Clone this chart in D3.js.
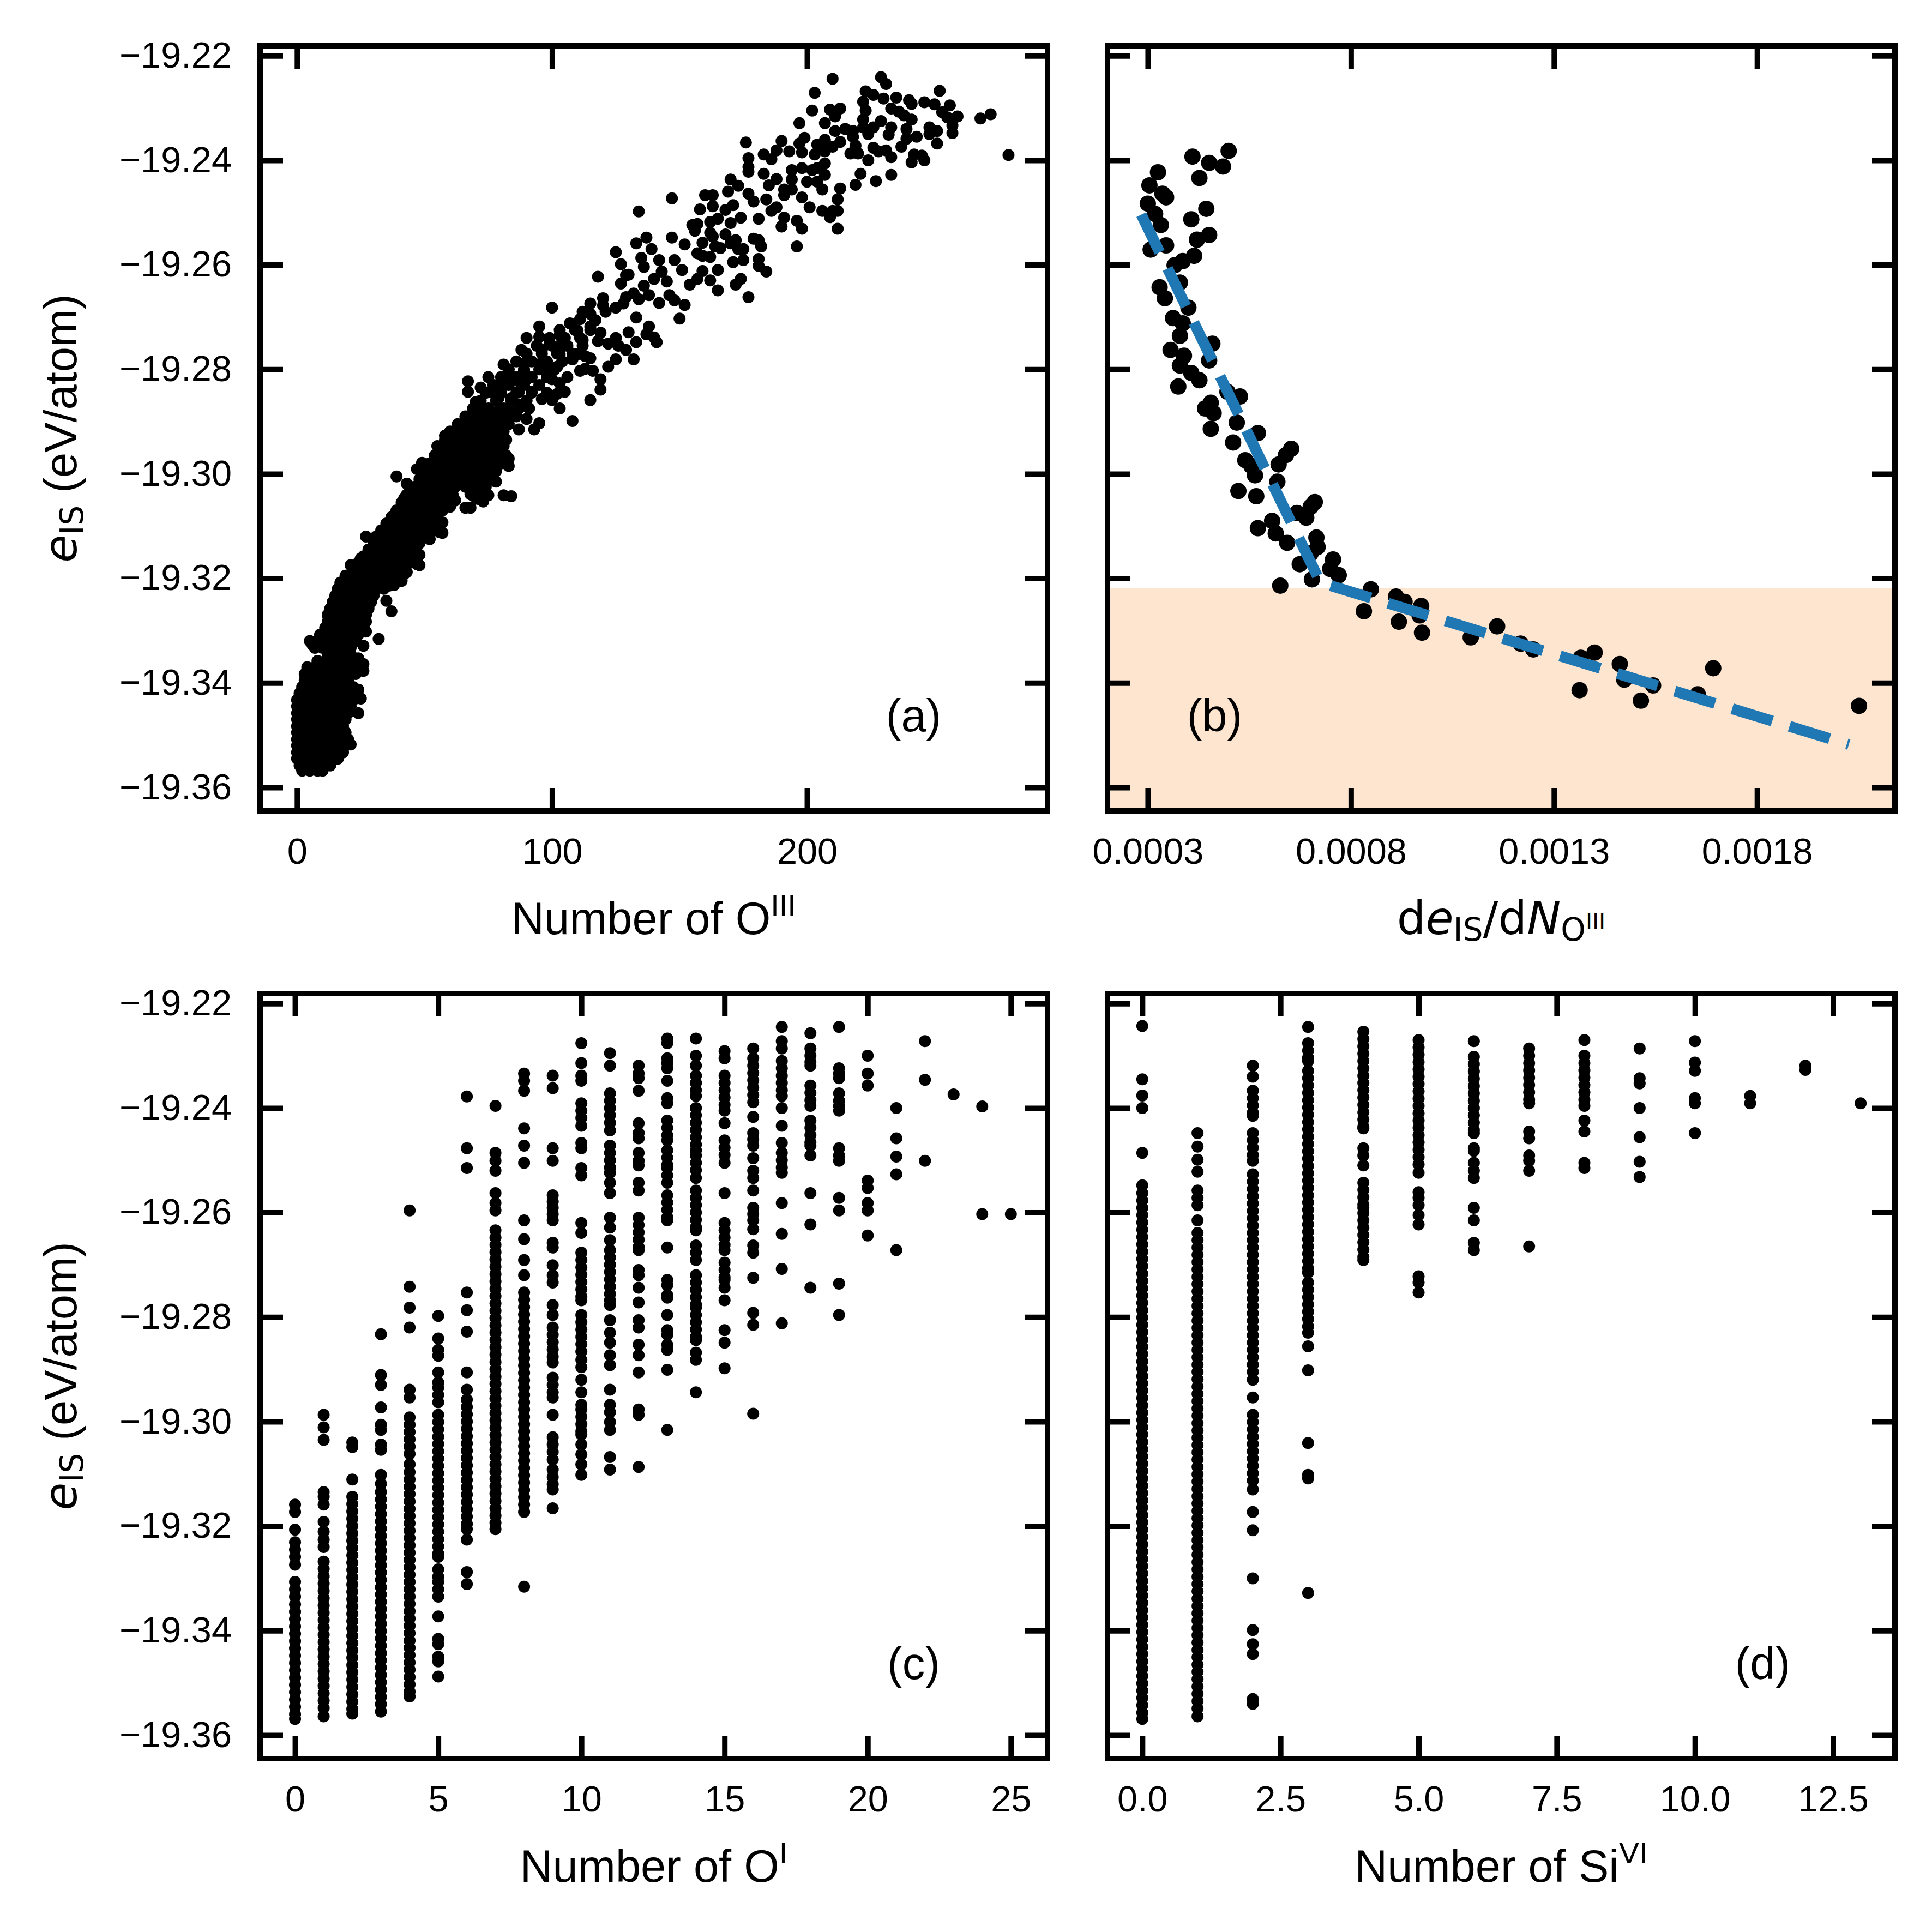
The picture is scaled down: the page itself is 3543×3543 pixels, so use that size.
<!DOCTYPE html>
<html>
<head>
<meta charset="utf-8">
<script src="https://cdn.jsdelivr.net/npm/d3@7"></script>
<style>
    body { margin: 0; background: #fff; }
    svg { display: block; }
</style>
</head>
<body>
<svg id="chart" width="3543" height="3543"></svg>
<script>
(function() {

    ///////////////////////// DATA //////////////////////////

    // shared y axis: e_IS (eV/atom)
    var energyTicks = [-19.36, -19.34, -19.32, -19.30, -19.28, -19.26, -19.24, -19.22];

    // (a) number of O^III vs e_IS, scattered points
    var oiiiScatter = [
        [210,-19.2244],[229,-19.2241],[231,-19.2254],[203,-19.2271],[223,-19.2268],[226,-19.2275],[222,-19.2288],[230,-19.2282],
        [235,-19.2280],[240,-19.2285],[241,-19.2292],[246,-19.2289],[250,-19.2293],[252,-19.2267],[256,-19.2295],[253,-19.2308],
        [259,-19.2316],[255,-19.2318],[268,-19.2320],[272,-19.2312],[279,-19.2390],[257,-19.2333],[257,-19.2348],[251,-19.2344],
        [248,-19.2337],[248,-19.2350],[251,-19.2368],[243,-19.2355],[242,-19.2389],[241,-19.2404],[245,-19.2391],[246,-19.2400],
        [237,-19.2374],[239,-19.2359],[233,-19.2394],[232,-19.2351],[231,-19.2381],[228,-19.2383],[226,-19.2376],[224,-19.2400],
        [233,-19.2428],[221,-19.2426],[219,-19.2447],[227,-19.2440],[233,-19.2301],[236,-19.2307],[238,-19.2314],[241,-19.2322],
        [239,-19.2340],[233,-19.2337],[229,-19.2325],[226,-19.2337],[224,-19.2350],[222,-19.2322],[223,-19.2305],[222,-19.2337],
        [218,-19.2355],[215,-19.2340],[218,-19.2344],[219,-19.2372],[217,-19.2387],[220,-19.2387],[213,-19.2365],[210,-19.2374],
        [207,-19.2361],[211,-19.2344],[207,-19.2329],[209,-19.2303],[213,-19.2301],[211,-19.2316],[202,-19.2305],[197,-19.2329],
        [199,-19.2357],[204,-19.2370],[207,-19.2383],[203,-19.2389],[207,-19.2406],[204,-19.2415],[202,-19.2419],[207,-19.2428],
        [213,-19.2454],[212,-19.2475],[206,-19.2456],[204,-19.2441],[200,-19.2441],[198,-19.2415],[194,-19.2419],[194,-19.2437],
        [194,-19.2456],[191,-19.2467],[198,-19.2471],[201,-19.2490],[206,-19.2497],[210,-19.2497],[209,-19.2509],[212,-19.2497],
        [212,-19.2531],[196,-19.2516],[198,-19.2531],[190,-19.2527],[191,-19.2510],[196,-19.2565],[193,-19.2383],[190,-19.2363],
        [197,-19.2368],[198,-19.2385],[188,-19.2381],[186,-19.2398],[183,-19.2389],[176,-19.2366],[177,-19.2396],[177,-19.2413],
        [177,-19.2422],[183,-19.2426],[188,-19.2436],[185,-19.2448],[191,-19.2456],[170,-19.2437],[173,-19.2449],[177,-19.2464],
        [179,-19.2479],[184,-19.2475],[186,-19.2497],[188,-19.2490],[181,-19.2512],[174,-19.2510],[171,-19.2486],[169,-19.2460],
        [160,-19.2467],[163,-19.2467],[158,-19.2494],[163,-19.2488],[168,-19.2495],[147,-19.2473],[134,-19.2498],[155,-19.2524],
        [157,-19.2522],[162,-19.2518],[165,-19.2512],[170,-19.2520],[168,-19.2542],[172,-19.2553],[162,-19.2539],[156,-19.2535],
        [159,-19.2558],[163,-19.2546],[164,-19.2565],[166,-19.2568],[170,-19.2559],[173,-19.2570],[175,-19.2570],[179,-19.2550],
        [181,-19.2553],[182,-19.2565],[181,-19.2589],[181,-19.2602],[184,-19.2613],[175,-19.2591],[171,-19.2595],[174,-19.2627],
        [172,-19.2638],[177,-19.2662],[165,-19.2610],[162,-19.2630],[165,-19.2649],[159,-19.2612],[157,-19.2627],[154,-19.2638],
        [159,-19.2583],[157,-19.2578],[162,-19.2585],[152,-19.2561],[147,-19.2548],[151,-19.2610],[148,-19.2591],[143,-19.2613],
        [142,-19.2591],[139,-19.2570],[137,-19.2548],[133,-19.2559],[135,-19.2587],[136,-19.2604],[140,-19.2627],[145,-19.2632],
        [146,-19.2658],[148,-19.2668],[152,-19.2677],[150,-19.2703],[142,-19.2673],[138,-19.2658],[134,-19.2666],[136,-19.2640],
        [132,-19.2655],[133,-19.2701],[130,-19.2619],[138,-19.2718],[137,-19.2733],[140,-19.2739],[141,-19.2748],[133,-19.2748],
        [130,-19.2729],
        [125,-19.2576],[127,-19.2599],[118,-19.2623],[129,-19.2620],[127,-19.2636],[100,-19.2682],[115,-19.2674],[120,-19.2664],
        [120,-19.2678],[112,-19.2690],[115,-19.2694],[107,-19.2712],[111,-19.2704],[117,-19.2706],[121,-19.2690],[125,-19.2682],
        [128,-19.2674],[129,-19.2662],[95,-19.2718],[95,-19.2738],[90,-19.2740],[103,-19.2734],[104,-19.2746],[110,-19.2726],
        [112,-19.2744],[115,-19.2718],[119,-19.2730],[118,-19.2746],[122,-19.2751],[125,-19.2740],[126,-19.2755],[129,-19.2763],
        [125,-19.2781],[122,-19.2795],[119,-19.2819],[119,-19.2839],[115,-19.2859],[116,-19.2803],[113,-19.2799],[111,-19.2803],
        [115,-19.2779],[113,-19.2775],[110,-19.2771],[108,-19.2781],[103,-19.2771],[103,-19.2759],[99,-19.2752],[96,-19.2763],
        [88,-19.2763],[90,-19.2785],[89,-19.2803],[96,-19.2787],[99,-19.2801],[102,-19.2795],[100,-19.2819],[106,-19.2815],
        [103,-19.2827],[105,-19.2843],[102,-19.2847],[103,-19.2875],[100,-19.2859],[96,-19.2857],[92,-19.2843],[90,-19.2819],
        [87,-19.2823],[87,-19.2843],[81,-19.2791],[84,-19.2817],[81,-19.2827],[75,-19.2815],[72,-19.2835],[67,-19.2823],
        [67,-19.2843],[76,-19.2843],[79,-19.2855],[84,-19.2855],[87,-19.2867],[91,-19.2875],[83,-19.2879],[79,-19.2879],
        [70,-19.2863],[73,-19.2875],[70,-19.2887],[73,-19.2899],[78,-19.2895],[81,-19.2903],[87,-19.2915],[90,-19.2895],
        [95,-19.2903],[93,-19.2915],[108,-19.2899],[81,-19.2919],[78,-19.2923],[74,-19.2927],[70,-19.2911],[63,-19.2911],
        [60,-19.2919],[58,-19.2927],[55,-19.2947],[64,-19.2927],[67,-19.2923],[71,-19.2935],[76,-19.2943],[78,-19.2939],
        [81,-19.2947],[75,-19.2959],[73,-19.2979],[77,-19.2975],[83,-19.2971],[83,-19.2985],[74,-19.2997],[72,-19.3011],
        [78,-19.3015],[75,-19.3041],[73,-19.3053],[68,-19.3039],[68,-19.3065],[84,-19.3043],[62,-19.3051],[66,-19.3011],
        [63,-19.2987],[58,-19.2971],[55,-19.2969],[53,-19.2983],[49,-19.2979],[47,-19.2991],[51,-19.3003],[56,-19.2995],
        [60,-19.3011],[58,-19.3027],[54,-19.3023],[43,-19.3019],[39,-19.3005],[42,-19.3047],[48,-19.3043],[53,-19.3051],
        [57,-19.3063],[60,-19.3063],[39,-19.3071],[44,-19.3071],[50,-19.3079],[54,-19.3085],[57,-19.3093],[57,-19.3113],
        [51,-19.3107],[46,-19.3099],[40,-19.3095],[35,-19.3103],[33,-19.3119],[30,-19.3131],[37,-19.3123],[41,-19.3127],
        [46,-19.3131],[48,-19.3155],[48,-19.3175],[43,-19.3151],[39,-19.3143],[35,-19.3151],[31,-19.3155],[40,-19.3163],
        [43,-19.3188],[132,-19.2781],
        [81,-19.3041],[66,-19.3065],[73,-19.3040],[71,-19.3048],[69,-19.3042],[56,-19.3112],[27,-19.3120],[30,-19.3130],
        [52,-19.3125],[25,-19.3162],[21,-19.3175],[47,-19.3173],[47,-19.3153],[42,-19.3192],[41,-19.3205],[38,-19.3213],
        [36,-19.3214],[35,-19.3243],[37,-19.3263],[27,-19.3302],[32,-19.3316],[6,-19.3327],[26,-19.3329],[24,-19.3353],
        [26,-19.3364],[26,-19.3377],[24,-19.3413],[25,-19.3430],[24,-19.3458],[21,-19.3518]
    ];

    // (a) dense middle band: [e_IS, O^III counts at that energy]
    var oiiiBandRows = [
        [-19.2725, [103,109,115]],
        [-19.2740, [99,105,111]],
        [-19.2755, [94,100,106,112]],
        [-19.2770, [90,96,102,108]],
        [-19.2785, [86,92,98,104]],
        [-19.2800, [83,89,95,101]],
        [-19.2815, [80,86,92,98]],
        [-19.2830, [77,83,89,95]],
        [-19.2845, [74,80,86,92,98]],
        [-19.2860, [72,78,84,90]],
        [-19.2875, [69,75,81,87]],
        [-19.2890, [66,70,74,78,82,86]],
        [-19.2905, [63,67,71,75,79,83]],
        [-19.2920, [60,64,68,72,76,80]],
        [-19.2935, [58,62,66,70,74,78,82]],
        [-19.2950, [56,60,64,68,72,76,80]],
        [-19.2965, [54,58,62,66,70,74,78,82]],
        [-19.2980, [52,56,60,64,68,72,76,80]],
        [-19.2995, [50,54,58,62,66,70,74,78]],
        [-19.3010, [48,52,56,60,64,68,72,76]],
        [-19.3025, [46,50,54,58,62,66,70,74]]
    ];

    // (a) dense core near low O^III counts: [e_IS, counts at that energy]
    var oiiiCoreRows = [
        [-19.3040, [43,46,49,52,55,58,61]],
        [-19.3055, [41,44,47,50,53,56,59]],
        [-19.3070, [39,42,45,48,51,54,57]],
        [-19.3083, [37,40,43,46,49,52,55]],
        [-19.3095, [35,38,41,44,47,50,53,55]],
        [-19.3108, [33,36,39,42,45,48,51,53]],
        [-19.3120, [31,34,37,40,43,46,49]],
        [-19.3133, [30,33,36,39,42,45,48]],
        [-19.3145, [28,31,34,37,40,43,46]],
        [-19.3158, [26,29,32,35,38,41,44,46]],
        [-19.3170, [24,27,30,33,36,39,42,44]],
        [-19.3183, [22,25,28,31,34,37,40,42]],
        [-19.3195, [19,22,25,28,31,34,37,40]],
        [-19.3208, [17,20,23,26,29,32,35,38]],
        [-19.3220, [16,19,22,25,28,31,34]],
        [-19.3233, [15,18,21,24,27,30]],
        [-19.3245, [14,17,20,23,26,29]],
        [-19.3258, [13,16,19,22,25,28]],
        [-19.3270, [12,15,18,21,24,27]],
        [-19.3283, [12,15,18,21,24,27]],
        [-19.3295, [11,14,17,20,23,26]],
        [-19.3308, [9,12,15,18,21,24]],
        [-19.3320, [5,8,11,14,17,20,23]],
        [-19.3333, [7,10,13,16,19,21]],
        [-19.3345, [12,15,18,21]],
        [-19.3358, [8,11,14,17,20,22]],
        [-19.3370, [4,7,10,13,16,19,22]],
        [-19.3383, [3,6,9,12,15,18,21,23]],
        [-19.3395, [3,6,9,12,15,18,20]],
        [-19.3408, [2,5,8,11,14,17,20,22]],
        [-19.3420, [1,4,7,10,13,16,19,22,23]],
        [-19.3433, [0,3,6,9,12,15,18,21,22]],
        [-19.3445, [0,3,6,9,12,15,18,21]],
        [-19.3458, [0,3,6,9,12,15,18,20]],
        [-19.3470, [0,3,6,9,12,15,18,19]],
        [-19.3483, [0,3,6,9,12,15,18]],
        [-19.3495, [0,3,6,9,12,15,18,19]],
        [-19.3508, [0,3,6,9,12,15,18,20]],
        [-19.3520, [0,3,6,9,12,15,18,19]],
        [-19.3533, [0,3,6,9,12,15,18]],
        [-19.3545, [0,3,6,9,12,15,16]],
        [-19.3558, [1,4,7,10,13]],
        [-19.3568, [2,5,8,10]]
    ];

    // (b) de_IS/dN_OIII vs e_IS
    var slopeValues = [
        0.000499,0.000410,0.000451,0.000485,0.000427,0.000325,0.000304,0.000336,0.000345,0.000300,
        0.000444,0.000407,0.000318,0.000332,0.000451,0.000421,0.000307,0.000345,0.000414,0.000386,
        0.000366,0.000379,0.000329,0.000342,0.000400,0.000362,0.000386,0.000379,0.000459,0.000451,
        0.000356,0.000389,0.000379,0.000407,0.000427,0.000375,0.000496,0.000527,0.000455,0.000441,
        0.000462,0.000519,0.000455,0.000571,0.000510,0.000540,0.000555,0.000564,0.000622,0.000653,
        0.000640,0.000619,0.000523,0.000567,0.000606,0.000571,0.000615,0.000643,0.000667,0.000690,
        0.000711,0.000701,0.000715,0.000718,0.000701,0.000674,0.000756,0.000749,0.000770,0.000704,
        0.000626,0.000849,0.000832,0.000911,0.000932,0.000973,0.000969,0.000918,0.000975,0.001095,
        0.001160,0.001218,0.001249,0.001366,0.001400,0.001462,0.001473,0.001363,0.001544,0.001514,
        0.001654,0.001692,0.002051
    ];
    var slopeEnergies = [
        -19.2382,-19.2393,-19.2405,-19.2412,-19.2434,-19.2423,-19.2448,-19.2464,-19.2471,-19.2483,
        -19.2493,-19.2513,-19.2503,-19.2524,-19.2543,-19.2552,-19.2571,-19.2563,-19.2583,-19.2593,
        -19.2601,-19.2634,-19.2643,-19.2664,-19.2682,-19.2702,-19.2712,-19.2736,-19.2751,-19.2783,
        -19.2763,-19.2774,-19.2793,-19.2807,-19.2821,-19.2833,-19.2843,-19.2852,-19.2864,-19.2875,
        -19.2884,-19.2902,-19.2914,-19.2922,-19.2940,-19.2974,-19.2985,-19.3003,-19.2982,-19.2952,
        -19.2964,-19.3015,-19.3033,-19.3043,-19.3090,-19.3104,-19.3114,-19.3132,-19.3075,-19.3084,
        -19.3054,-19.3063,-19.3122,-19.3140,-19.3152,-19.3173,-19.3164,-19.3182,-19.3194,-19.3202,
        -19.3214,-19.3221,-19.3263,-19.3235,-19.3245,-19.3253,-19.3271,-19.3283,-19.3304,-19.3313,
        -19.3292,-19.3325,-19.3336,-19.3352,-19.3342,-19.3364,-19.3394,-19.3414,-19.3405,-19.3434,
        -19.3422,-19.3372,-19.3444
    ];
    // (b) dashed piecewise fit and shaded band top
    var fitSlope = [0.000284, 0.000725, 0.002026];
    var fitEnergy = [-19.2504, -19.3208, -19.3518];
    var bandTop = -19.3219;

    // (c) number of O^I: [count, e_IS values]
    var oiColumns = [
        [0, [-19.3159,-19.3173,-19.3207,-19.3231,-19.3245,-19.3259,-19.3274,-19.3307,-19.3321,-19.3335,-19.3350,-19.3364,-19.3378,-19.3392,-19.3406,-19.3420,-19.3434,-19.3448,-19.3462,-19.3476,-19.3490,-19.3504,-19.3518,-19.3532,-19.3546,-19.3560,-19.3569]],
        [1, [-19.2987,-19.3011,-19.3035,-19.3135,-19.3144,-19.3159,-19.3192,-19.3211,-19.3226,-19.3240,-19.3268,-19.3282,-19.3296,-19.3310,-19.3324,-19.3338,-19.3352,-19.3366,-19.3380,-19.3394,-19.3408,-19.3422,-19.3436,-19.3450,-19.3464,-19.3478,-19.3492,-19.3506,-19.3520,-19.3534,-19.3548,-19.3564]],
        [2, [-19.3040,-19.3049,-19.3111,-19.3144,-19.3158,-19.3172,-19.3186,-19.3200,-19.3214,-19.3228,-19.3242,-19.3256,-19.3270,-19.3284,-19.3298,-19.3312,-19.3326,-19.3340,-19.3354,-19.3368,-19.3382,-19.3396,-19.3410,-19.3424,-19.3438,-19.3452,-19.3466,-19.3480,-19.3494,-19.3508,-19.3522,-19.3536,-19.3550,-19.3559]],
        [3, [-19.2833,-19.2911,-19.2930,-19.2973,-19.3006,-19.3016,-19.3044,-19.3054,-19.3102,-19.3119,-19.3135,-19.3149,-19.3163,-19.3177,-19.3191,-19.3205,-19.3219,-19.3233,-19.3247,-19.3261,-19.3275,-19.3289,-19.3303,-19.3317,-19.3331,-19.3345,-19.3359,-19.3373,-19.3387,-19.3401,-19.3415,-19.3429,-19.3443,-19.3457,-19.3471,-19.3485,-19.3499,-19.3513,-19.3527,-19.3541,-19.3555]],
        [4, [-19.2596,-19.2742,-19.2782,-19.2820,-19.2939,-19.2954,-19.2992,-19.3006,-19.3020,-19.3034,-19.3048,-19.3062,-19.3082,-19.3097,-19.3111,-19.3125,-19.3139,-19.3153,-19.3167,-19.3181,-19.3195,-19.3209,-19.3223,-19.3237,-19.3251,-19.3265,-19.3279,-19.3293,-19.3307,-19.3321,-19.3335,-19.3349,-19.3363,-19.3377,-19.3391,-19.3405,-19.3419,-19.3433,-19.3447,-19.3461,-19.3475,-19.3489,-19.3503,-19.3517,-19.3526]],
        [5, [-19.2798,-19.2841,-19.2863,-19.2874,-19.2906,-19.2925,-19.2935,-19.2949,-19.2963,-19.2987,-19.3001,-19.3015,-19.3029,-19.3043,-19.3057,-19.3071,-19.3085,-19.3099,-19.3113,-19.3127,-19.3141,-19.3155,-19.3169,-19.3183,-19.3197,-19.3211,-19.3225,-19.3239,-19.3253,-19.3259,-19.3283,-19.3297,-19.3307,-19.3321,-19.3335,-19.3373,-19.3416,-19.3426,-19.3450,-19.3459,-19.3488]],
        [6, [-19.2378,-19.2477,-19.2515,-19.2753,-19.2787,-19.2828,-19.2906,-19.2939,-19.2958,-19.2972,-19.2986,-19.3000,-19.3014,-19.3028,-19.3042,-19.3056,-19.3070,-19.3084,-19.3098,-19.3112,-19.3126,-19.3140,-19.3154,-19.3168,-19.3182,-19.3196,-19.3206,-19.3226,-19.3288,-19.3311]],
        [7, [-19.2396,-19.2486,-19.2501,-19.2520,-19.2563,-19.2582,-19.2596,-19.2634,-19.2648,-19.2662,-19.2676,-19.2690,-19.2704,-19.2718,-19.2732,-19.2746,-19.2760,-19.2774,-19.2788,-19.2802,-19.2816,-19.2830,-19.2844,-19.2858,-19.2872,-19.2886,-19.2900,-19.2914,-19.2928,-19.2942,-19.2956,-19.2970,-19.2984,-19.2998,-19.3012,-19.3026,-19.3040,-19.3054,-19.3068,-19.3082,-19.3096,-19.3110,-19.3124,-19.3138,-19.3152,-19.3166,-19.3180,-19.3194,-19.3206]],
        [8, [-19.2334,-19.2348,-19.2367,-19.2439,-19.2472,-19.2505,-19.2615,-19.2651,-19.2691,-19.2720,-19.2753,-19.2767,-19.2781,-19.2795,-19.2809,-19.2823,-19.2837,-19.2851,-19.2865,-19.2879,-19.2893,-19.2907,-19.2921,-19.2935,-19.2949,-19.2963,-19.2977,-19.2991,-19.3005,-19.3019,-19.3033,-19.3047,-19.3061,-19.3075,-19.3089,-19.3103,-19.3117,-19.3131,-19.3145,-19.3159,-19.3173,-19.3316]],
        [9, [-19.2338,-19.2362,-19.2477,-19.2501,-19.2567,-19.2579,-19.2591,-19.2603,-19.2615,-19.2658,-19.2667,-19.2701,-19.2720,-19.2734,-19.2777,-19.2796,-19.2820,-19.2834,-19.2848,-19.2862,-19.2876,-19.2887,-19.2916,-19.2930,-19.2944,-19.2954,-19.2987,-19.3030,-19.3044,-19.3058,-19.3073,-19.3092,-19.3106,-19.3120,-19.3130,-19.3166]],
        [10, [-19.2276,-19.2314,-19.2338,-19.2348,-19.2391,-19.2405,-19.2419,-19.2434,-19.2467,-19.2477,-19.2515,-19.2529,-19.2620,-19.2639,-19.2677,-19.2691,-19.2705,-19.2719,-19.2733,-19.2747,-19.2761,-19.2768,-19.2796,-19.2810,-19.2824,-19.2838,-19.2852,-19.2866,-19.2882,-19.2896,-19.2920,-19.2944,-19.2968,-19.2977,-19.2991,-19.3005,-19.3019,-19.3025,-19.3044,-19.3063,-19.3082,-19.3102]],
        [11, [-19.2295,-19.2319,-19.2372,-19.2386,-19.2400,-19.2414,-19.2428,-19.2443,-19.2472,-19.2486,-19.2500,-19.2514,-19.2524,-19.2543,-19.2563,-19.2610,-19.2629,-19.2653,-19.2672,-19.2686,-19.2700,-19.2714,-19.2728,-19.2742,-19.2756,-19.2768,-19.2777,-19.2806,-19.2830,-19.2849,-19.2873,-19.2892,-19.2939,-19.2968,-19.2982,-19.3001,-19.3016,-19.3068,-19.3092]],
        [12, [-19.2319,-19.2334,-19.2343,-19.2367,-19.2429,-19.2448,-19.2458,-19.2486,-19.2501,-19.2510,-19.2543,-19.2558,-19.2610,-19.2624,-19.2638,-19.2652,-19.2666,-19.2672,-19.2710,-19.2720,-19.2744,-19.2772,-19.2806,-19.2820,-19.2853,-19.2873,-19.2906,-19.2977,-19.2987,-19.3087]],
        [13, [-19.2267,-19.2276,-19.2305,-19.2314,-19.2324,-19.2348,-19.2381,-19.2391,-19.2424,-19.2438,-19.2452,-19.2462,-19.2481,-19.2495,-19.2509,-19.2515,-19.2529,-19.2543,-19.2567,-19.2581,-19.2595,-19.2609,-19.2615,-19.2667,-19.2729,-19.2739,-19.2758,-19.2763,-19.2796,-19.2825,-19.2834,-19.2853,-19.2863,-19.2901,-19.3016]],
        [14, [-19.2267,-19.2300,-19.2319,-19.2338,-19.2352,-19.2366,-19.2377,-19.2400,-19.2414,-19.2428,-19.2442,-19.2456,-19.2470,-19.2481,-19.2491,-19.2505,-19.2519,-19.2534,-19.2558,-19.2572,-19.2586,-19.2600,-19.2614,-19.2628,-19.2634,-19.2663,-19.2677,-19.2691,-19.2720,-19.2734,-19.2748,-19.2762,-19.2776,-19.2782,-19.2796,-19.2810,-19.2824,-19.2838,-19.2844,-19.2868,-19.2882,-19.2944]],
        [15, [-19.2291,-19.2305,-19.2338,-19.2352,-19.2366,-19.2380,-19.2394,-19.2405,-19.2429,-19.2462,-19.2476,-19.2490,-19.2505,-19.2563,-19.2620,-19.2634,-19.2648,-19.2662,-19.2672,-19.2696,-19.2710,-19.2724,-19.2729,-19.2744,-19.2768,-19.2825,-19.2849,-19.2898]],
        [16, [-19.2286,-19.2305,-19.2319,-19.2333,-19.2347,-19.2361,-19.2375,-19.2389,-19.2417,-19.2448,-19.2460,-19.2472,-19.2496,-19.2520,-19.2534,-19.2558,-19.2591,-19.2603,-19.2615,-19.2632,-19.2663,-19.2677,-19.2725,-19.2792,-19.2815,-19.2985]],
        [17, [-19.2245,-19.2272,-19.2286,-19.2310,-19.2324,-19.2338,-19.2352,-19.2366,-19.2377,-19.2400,-19.2434,-19.2467,-19.2486,-19.2500,-19.2514,-19.2524,-19.2582,-19.2641,-19.2708,-19.2812]],
        [18, [-19.2257,-19.2286,-19.2300,-19.2312,-19.2319,-19.2357,-19.2371,-19.2385,-19.2396,-19.2424,-19.2438,-19.2452,-19.2466,-19.2472,-19.2491,-19.2563,-19.2623,-19.2744]],
        [19, [-19.2245,-19.2324,-19.2334,-19.2343,-19.2372,-19.2386,-19.2396,-19.2405,-19.2477,-19.2491,-19.2501,-19.2572,-19.2596,-19.2736,-19.2796]],
        [20, [-19.2300,-19.2334,-19.2357,-19.2539,-19.2553,-19.2582,-19.2596,-19.2644]],
        [21, [-19.2400,-19.2458,-19.2493,-19.2527,-19.2672]],
        [22, [-19.2272,-19.2346,-19.2501]],
        [23, [-19.2374]],
        [24, [-19.2397,-19.2603]],
        [25, [-19.2603]]
    ];

    // (d) number of Si^VI: [count, e_IS values]
    var siviColumns = [
        [0, [-19.2243,-19.2345,-19.2376,-19.2400,-19.2486,-19.2548,-19.2563,-19.2577,-19.2591,-19.2605,-19.2619,-19.2633,-19.2647,-19.2661,-19.2675,-19.2689,-19.2703,-19.2717,-19.2731,-19.2745,-19.2759,-19.2773,-19.2787,-19.2801,-19.2815,-19.2829,-19.2843,-19.2857,-19.2871,-19.2885,-19.2899,-19.2913,-19.2927,-19.2941,-19.2955,-19.2969,-19.2983,-19.2997,-19.3011,-19.3025,-19.3039,-19.3053,-19.3067,-19.3081,-19.3095,-19.3109,-19.3123,-19.3137,-19.3151,-19.3165,-19.3179,-19.3193,-19.3207,-19.3221,-19.3235,-19.3249,-19.3263,-19.3277,-19.3291,-19.3305,-19.3319,-19.3333,-19.3347,-19.3361,-19.3375,-19.3389,-19.3403,-19.3417,-19.3431,-19.3445,-19.3459,-19.3473,-19.3487,-19.3501,-19.3515,-19.3529,-19.3543,-19.3557,-19.3569]],
        [1, [-19.2448,-19.2474,-19.2499,-19.2522,-19.2558,-19.2572,-19.2586,-19.2615,-19.2639,-19.2653,-19.2667,-19.2681,-19.2695,-19.2709,-19.2723,-19.2737,-19.2751,-19.2765,-19.2779,-19.2793,-19.2807,-19.2821,-19.2835,-19.2849,-19.2863,-19.2877,-19.2891,-19.2905,-19.2919,-19.2933,-19.2947,-19.2961,-19.2975,-19.2989,-19.3003,-19.3017,-19.3031,-19.3045,-19.3059,-19.3073,-19.3087,-19.3101,-19.3115,-19.3129,-19.3143,-19.3157,-19.3171,-19.3185,-19.3199,-19.3213,-19.3227,-19.3241,-19.3255,-19.3269,-19.3283,-19.3297,-19.3311,-19.3325,-19.3339,-19.3353,-19.3367,-19.3381,-19.3395,-19.3409,-19.3423,-19.3437,-19.3451,-19.3465,-19.3479,-19.3493,-19.3507,-19.3521,-19.3535,-19.3549,-19.3564]],
        [2, [-19.2319,-19.2340,-19.2367,-19.2381,-19.2395,-19.2409,-19.2415,-19.2448,-19.2462,-19.2476,-19.2490,-19.2501,-19.2527,-19.2541,-19.2555,-19.2569,-19.2583,-19.2597,-19.2611,-19.2625,-19.2639,-19.2653,-19.2667,-19.2681,-19.2695,-19.2709,-19.2723,-19.2737,-19.2751,-19.2765,-19.2779,-19.2793,-19.2807,-19.2821,-19.2835,-19.2849,-19.2863,-19.2877,-19.2891,-19.2905,-19.2920,-19.2954,-19.2987,-19.3001,-19.3015,-19.3029,-19.3043,-19.3057,-19.3071,-19.3085,-19.3099,-19.3113,-19.3130,-19.3173,-19.3208,-19.3300,-19.3399,-19.3426,-19.3445,-19.3531,-19.3540]],
        [3, [-19.2245,-19.2276,-19.2290,-19.2304,-19.2310,-19.2329,-19.2343,-19.2357,-19.2371,-19.2385,-19.2399,-19.2413,-19.2427,-19.2441,-19.2455,-19.2469,-19.2483,-19.2497,-19.2511,-19.2525,-19.2539,-19.2553,-19.2567,-19.2581,-19.2595,-19.2609,-19.2623,-19.2637,-19.2651,-19.2665,-19.2679,-19.2693,-19.2707,-19.2715,-19.2734,-19.2748,-19.2762,-19.2776,-19.2790,-19.2804,-19.2818,-19.2830,-19.2856,-19.2902,-19.3041,-19.3102,-19.3109,-19.3328]],
        [4, [-19.2254,-19.2268,-19.2282,-19.2296,-19.2310,-19.2324,-19.2338,-19.2352,-19.2366,-19.2380,-19.2394,-19.2408,-19.2422,-19.2436,-19.2439,-19.2477,-19.2491,-19.2510,-19.2543,-19.2557,-19.2571,-19.2585,-19.2591,-19.2601,-19.2615,-19.2629,-19.2643,-19.2657,-19.2671,-19.2685,-19.2691]],
        [5, [-19.2270,-19.2284,-19.2298,-19.2312,-19.2326,-19.2340,-19.2354,-19.2368,-19.2382,-19.2396,-19.2410,-19.2424,-19.2438,-19.2452,-19.2466,-19.2480,-19.2494,-19.2508,-19.2524,-19.2561,-19.2572,-19.2586,-19.2605,-19.2623,-19.2722,-19.2734,-19.2753]],
        [6, [-19.2272,-19.2302,-19.2316,-19.2330,-19.2344,-19.2358,-19.2372,-19.2386,-19.2400,-19.2414,-19.2428,-19.2442,-19.2448,-19.2477,-19.2482,-19.2505,-19.2520,-19.2534,-19.2591,-19.2615,-19.2658,-19.2672]],
        [7, [-19.2286,-19.2300,-19.2314,-19.2328,-19.2342,-19.2356,-19.2370,-19.2384,-19.2391,-19.2445,-19.2458,-19.2491,-19.2501,-19.2520,-19.2665]],
        [8, [-19.2270,-19.2300,-19.2314,-19.2328,-19.2342,-19.2356,-19.2370,-19.2384,-19.2396,-19.2424,-19.2445,-19.2505,-19.2515]],
        [9, [-19.2286,-19.2343,-19.2353,-19.2400,-19.2456,-19.2503,-19.2532]],
        [10, [-19.2272,-19.2313,-19.2329,-19.2381,-19.2391,-19.2448]],
        [11, [-19.2377,-19.2391]],
        [12, [-19.2319,-19.2327]],
        [13, [-19.2391]]
    ];

    // axis ticks
    var oiiiTicks = [0, 100, 200];
    var slopeTicks = [0.0003, 0.0008, 0.0013, 0.0018];
    var oiTicks = [0, 5, 10, 15, 20, 25];
    var siviTicks = [0, 2.5, 5, 7.5, 10, 12.5];

    //////////////////////////////////////////////////////////////////////////

    var svg = d3.select("#chart");
    var panelW = 1444, panelH = 1403;
    var colLeft = [477, 2031], rowTop = [84, 1822];
    var tickLen = 42, lineW = 10;
    var tickFont = 66.7, labelFont = 83;
    var sansFont = "'Liberation Sans', Arial, sans-serif";
    var mathFont = "'DejaVu Sans', sans-serif";

    var yScale = d3.scaleLinear().domain([-19.3645, -19.2181]).range([panelH, 0]);

    function flattenColumns(cols) {
        var out = [];
        cols.forEach(function(c) { c[1].forEach(function(e) { out.push([c[0], e]); }); });
        return out;
    }

    function flattenRows(rows) {
        var out = [];
        rows.forEach(function(r) { r[1].forEach(function(n) { out.push([n, r[0]]); }); });
        return out;
    }

    var oiiiPoints = oiiiScatter.concat(flattenRows(oiiiBandRows), flattenRows(oiiiCoreRows));
    var slopePoints = slopeValues.map(function(v, i) { return [v, slopeEnergies[i]]; });

    // rich text: segments of {t, font, italic, size, shift}
    function richText(sel, segs) {
        var cur = 0;
        segs.forEach(function(s) {
            var shift = s.shift || 0;
            sel.append("tspan")
                .attr("dy", shift - cur)
                .style("font-family", s.font || sansFont)
                .style("font-style", s.italic ? "italic" : "normal")
                .style("font-size", (s.size || labelFont) + "px")
                .text(s.t);
            cur = shift;
        });
    }

    function drawPanel(cfg) {
        var g = svg.append("g")
            .attr("transform", "translate(" + cfg.x0 + "," + cfg.y0 + ")");

        var xScale = d3.scaleLinear().domain(cfg.xDomain).range([0, panelW]);

        if (cfg.band != null) {
            g.append("rect")
                .attr("x", 0)
                .attr("y", yScale(cfg.band))
                .attr("width", panelW)
                .attr("height", panelH - yScale(cfg.band))
                .attr("fill", "#fde5cf");
        }

        g.append("g").selectAll("circle")
            .data(cfg.points)
            .enter()
            .append("circle")
            .attr("cx", function(d) { return xScale(d[0]); })
            .attr("cy", function(d) { return yScale(d[1]); })
            .attr("r", cfg.r)
            .attr("fill", "#000");

        if (cfg.fit) {
            var line = d3.line()
                .x(function(d) { return xScale(d[0]); })
                .y(function(d) { return yScale(d[1]); });
            g.append("path")
                .attr("d", line(cfg.fit))
                .attr("fill", "none")
                .attr("stroke", "#1f77b4")
                .attr("stroke-width", 20)
                .attr("stroke-dasharray", "77,33");
        }

        var noLabel = function() { return ""; };

        g.append("g")
            .attr("class", "axis")
            .attr("transform", "translate(0," + panelH + ")")
            .call(d3.axisBottom(xScale).tickValues(cfg.xTicks).tickFormat(cfg.xFormat)
                .tickSizeInner(-tickLen).tickSizeOuter(0).tickPadding(50));
        g.append("g")
            .attr("class", "axis")
            .call(d3.axisTop(xScale).tickValues(cfg.xTicks).tickFormat(noLabel)
                .tickSizeInner(-tickLen).tickSizeOuter(0));
        g.append("g")
            .attr("class", "axis")
            .call(d3.axisLeft(yScale).tickValues(energyTicks)
                .tickFormat(cfg.yLabels ? d3.format(".2f") : noLabel)
                .tickSizeInner(-tickLen).tickSizeOuter(0).tickPadding(52));
        g.append("g")
            .attr("class", "axis")
            .attr("transform", "translate(" + panelW + ",0)")
            .call(d3.axisRight(yScale).tickValues(energyTicks).tickFormat(noLabel)
                .tickSizeInner(-tickLen).tickSizeOuter(0));

        g.append("rect")
            .attr("width", panelW)
            .attr("height", panelH)
            .attr("fill", "none")
            .attr("stroke", "#000")
            .attr("stroke-width", lineW);

        g.selectAll(".axis .domain").remove();
        g.selectAll(".axis line").attr("stroke", "#000").attr("stroke-width", lineW);
        g.selectAll(".axis text")
            .attr("fill", "#000")
            .style("font-family", sansFont)
            .style("font-size", tickFont + "px");

        // panel letter
        g.append("text")
            .attr("x", cfg.letterX * panelW)
            .attr("y", panelH - 0.112 * panelH + 11)
            .attr("text-anchor", "middle")
            .style("font-family", sansFont)
            .style("font-size", labelFont + "px")
            .text(cfg.letter);

        // x label
        var xl = g.append("text")
            .attr("x", panelW / 2)
            .attr("y", panelH + 226)
            .attr("text-anchor", "middle");
        richText(xl, cfg.xLabel);

        // y label
        if (cfg.yLabels) {
            var yl = svg.append("text")
                .attr("transform", "translate(140," + (cfg.y0 + panelH / 2) + ") rotate(-90)")
                .attr("text-anchor", "middle");
            richText(yl, [
                {t: "e", font: mathFont, italic: true},
                {t: "IS", font: mathFont, size: 58, shift: 12},
                {t: " (eV/atom)", font: sansFont}
            ]);
        }
    }

    var supSize = 56, supShift = -34;

    drawPanel({
        x0: colLeft[0], y0: rowTop[0], xDomain: [-14.5, 294.3],
        points: oiiiPoints, r: 11, xTicks: oiiiTicks, xFormat: d3.format("d"),
        yLabels: true, letter: "(a)", letterX: 0.830,
        xLabel: [{t: "Number of O"}, {t: "III", size: supSize, shift: supShift}]
    });

    drawPanel({
        x0: colLeft[1], y0: rowTop[0], xDomain: [0.0002007, 0.0021394],
        points: slopePoints, r: 15, xTicks: slopeTicks, xFormat: d3.format(".4f"),
        yLabels: false, letter: "(b)", letterX: 0.136,
        band: bandTop,
        fit: fitSlope.map(function(v, i) { return [v, fitEnergy[i]]; }),
        xLabel: [
            {t: "d", font: mathFont},
            {t: "e", font: mathFont, italic: true},
            {t: "IS", font: mathFont, size: 58, shift: 12},
            {t: "/d", font: mathFont},
            {t: "N", font: mathFont, italic: true},
            {t: "O", font: mathFont, size: 58, shift: 12},
            {t: "III", font: mathFont, size: 41, shift: -9}
        ]
    });

    drawPanel({
        x0: colLeft[0], y0: rowTop[1], xDomain: [-1.22, 26.28],
        points: flattenColumns(oiColumns), r: 11, xTicks: oiTicks, xFormat: d3.format("d"),
        yLabels: true, letter: "(c)", letterX: 0.830,
        xLabel: [{t: "Number of O"}, {t: "I", size: supSize, shift: supShift}]
    });

    drawPanel({
        x0: colLeft[1], y0: rowTop[1], xDomain: [-0.63, 13.62],
        points: flattenColumns(siviColumns), r: 11, xTicks: siviTicks, xFormat: d3.format(".1f"),
        yLabels: false, letter: "(d)", letterX: 0.832,
        xLabel: [{t: "Number of Si"}, {t: "VI", size: supSize, shift: supShift}]
    });
})();
</script>
</body>
</html>
